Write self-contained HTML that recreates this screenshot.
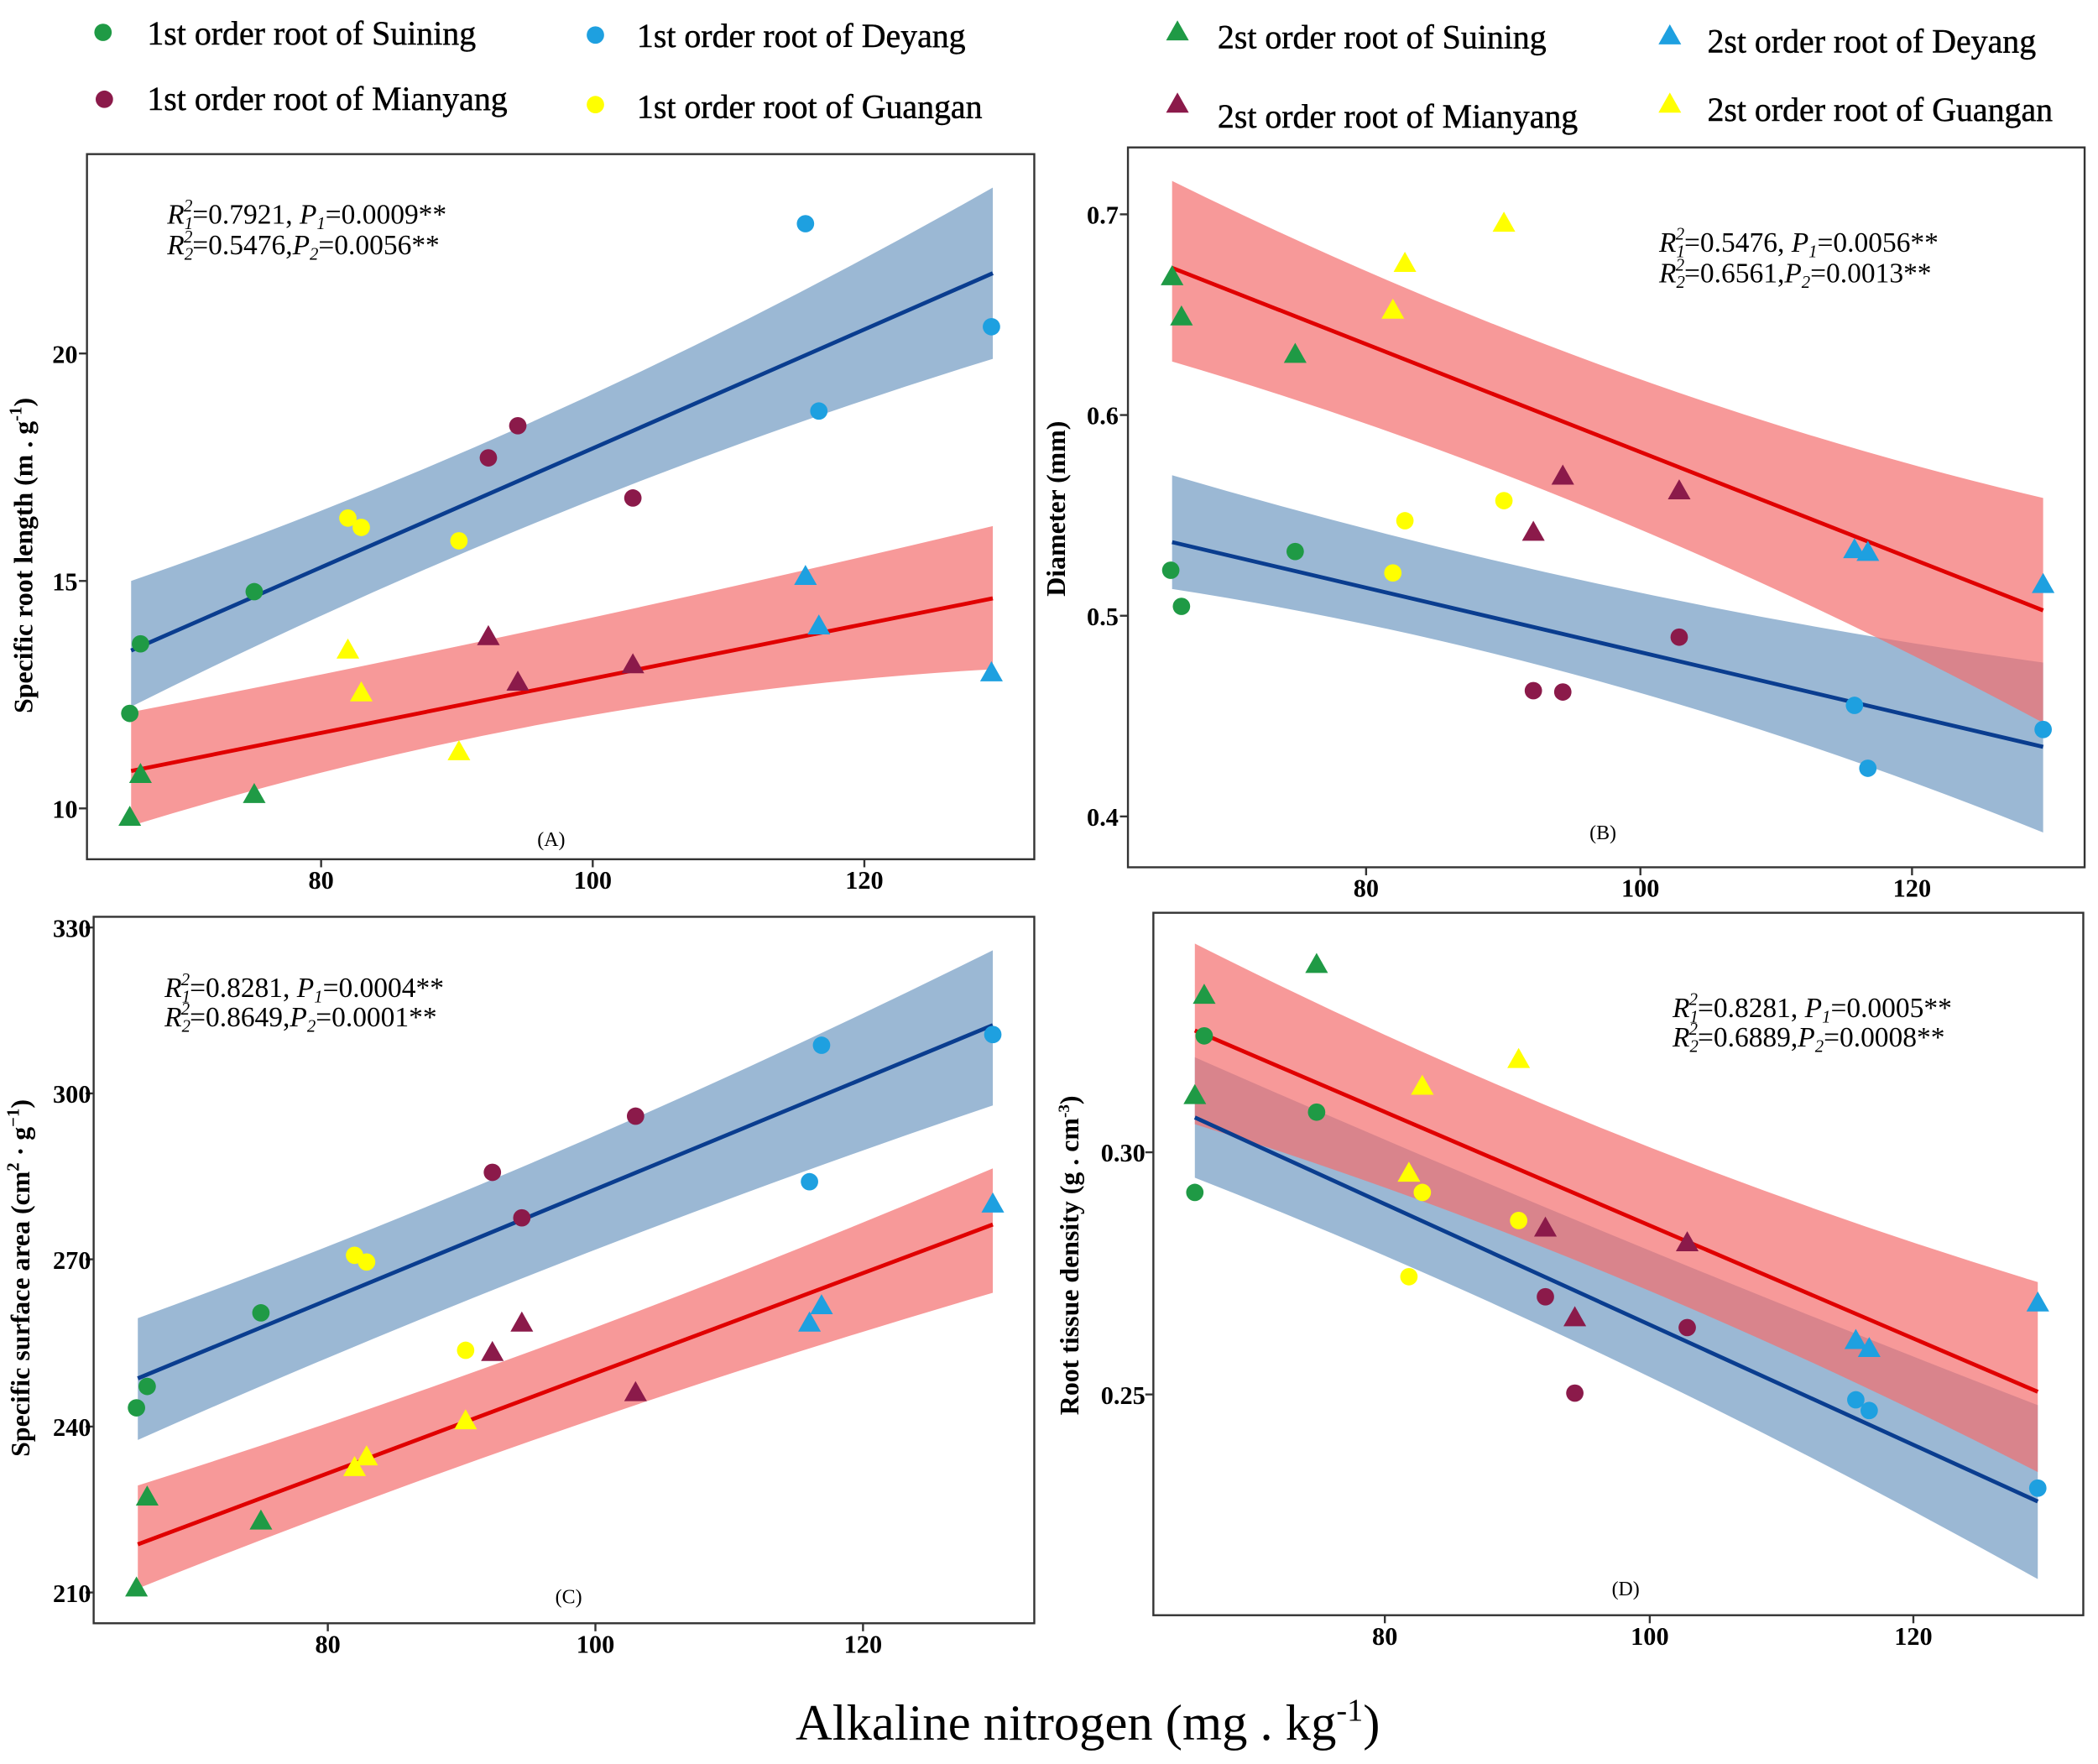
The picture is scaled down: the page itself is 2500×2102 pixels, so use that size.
<!DOCTYPE html>
<html><head><meta charset="utf-8"><style>
html,body{margin:0;padding:0;background:#fff}
svg{display:block}
text{font-family:"Liberation Serif",serif}
.tk{font-size:19px;font-weight:bold}
.yl{font-size:20px;font-weight:bold}
.lg{font-size:25px;stroke:#000;stroke-width:0.3}
.eq{font-size:21px;font-style:italic}
.pl{font-size:15px}
</style></head><body>
<svg width="2500" height="2102" viewBox="0 0 1568 1318" xmlns="http://www.w3.org/2000/svg">
<defs>
<circle id="c" r="6.5"/>
<path id="t" d="M0,-9 L8.5,6 L-8.5,6 Z"/>
</defs>
<rect width="1568" height="1318" fill="#fff"/>
<!-- legend -->
<g class="lg">
<use href="#c" x="77" y="24" fill="#1f9a45" stroke="none"/><text x="110" y="33">1st order root of Suining</text>
<use href="#c" x="445" y="26" fill="#1ea0e0" stroke="none"/><text x="476" y="35">1st order root of Deyang</text>
<use href="#c" x="78" y="74" fill="#8b1a4a" stroke="none"/><text x="110" y="82">1st order root of Mianyang</text>
<use href="#c" x="445" y="78" fill="#ffff00" stroke="none"/><text x="476" y="88">1st order root of Guangan</text>
<use href="#t" x="880" y="24" fill="#1f9a45" stroke="none"/><text x="910" y="36">2st order root of Suining</text>
<use href="#t" x="1248" y="27" fill="#1ea0e0" stroke="none"/><text x="1276" y="39">2st order root of Deyang</text>
<use href="#t" x="880" y="78" fill="#8b1a4a" stroke="none"/><text x="910" y="95">2st order root of Mianyang</text>
<use href="#t" x="1248" y="78" fill="#ffff00" stroke="none"/><text x="1276" y="90">2st order root of Guangan</text>
</g>

<!-- Panel A -->
<g>
<path d="M98,434 Q420,323 742,140 L742,268 Q420,367 98,528 Z" fill="#7aa0c6" fill-opacity="0.75"/>
<path d="M98,532 Q420,470 742,393 L742,500 Q420,518 98,617 Z" fill="#f46d6d" fill-opacity="0.7"/>
<line x1="98" y1="486" x2="742" y2="204" stroke="#0a3d8f" stroke-width="3"/>
<line x1="98" y1="576" x2="742" y2="447" stroke="#e00000" stroke-width="3"/>
<rect x="65" y="115" width="708" height="527" fill="none" stroke="#333" stroke-width="1.5"/>
<g stroke="#333" stroke-width="1.5"><line x1="240" y1="642" x2="240" y2="648"/><line x1="443" y1="642" x2="443" y2="648"/><line x1="646" y1="642" x2="646" y2="648"/><line x1="59" y1="604" x2="65" y2="604"/><line x1="59" y1="434" x2="65" y2="434"/><line x1="59" y1="264" x2="65" y2="264"/></g>
<g class="tk" text-anchor="middle"><text x="240" y="664">80</text><text x="443" y="664">100</text><text x="646" y="664">120</text></g>
<g class="tk" text-anchor="end"><text x="58" y="611">10</text><text x="58" y="441">15</text><text x="58" y="271">20</text></g>
<text class="yl" transform="translate(24,415) rotate(-90)" text-anchor="middle">Specific root length (m . g<tspan dy="-8" font-size="13">-1</tspan><tspan dy="8">)</tspan></text>
<text class="eq" x="125" y="167">R<tspan font-size="13" dy="4">1</tspan><tspan font-size="13" dx="-7" dy="-13">2</tspan><tspan dy="9" font-style="normal">=0.7921, </tspan>P<tspan font-size="13" dy="4">1</tspan><tspan dy="-4" font-style="normal">=0.0009**</tspan></text>
<text class="eq" x="125" y="190">R<tspan font-size="13" dy="4">2</tspan><tspan font-size="13" dx="-7" dy="-13">2</tspan><tspan dy="9" font-style="normal">=0.5476,</tspan>P<tspan font-size="13" dy="4">2</tspan><tspan dy="-4" font-style="normal">=0.0056**</tspan></text>
<text class="pl" x="412" y="632" text-anchor="middle">(A)</text>
<g fill="#1f9a45"><use href="#c" x="97" y="533"/><use href="#c" x="105" y="481"/><use href="#c" x="190" y="442"/><use href="#t" x="97" y="611"/><use href="#t" x="105" y="579"/><use href="#t" x="190" y="594"/></g>
<g fill="#8b1a4a"><use href="#c" x="365" y="342"/><use href="#c" x="387" y="318"/><use href="#c" x="473" y="372"/><use href="#t" x="365" y="476"/><use href="#t" x="387" y="510"/><use href="#t" x="473" y="497"/></g>
<g fill="#ffff00"><use href="#c" x="260" y="387"/><use href="#c" x="270" y="394"/><use href="#c" x="343" y="404"/><use href="#t" x="260" y="486"/><use href="#t" x="270" y="518"/><use href="#t" x="343" y="562"/></g>
<g fill="#1ea0e0"><use href="#c" x="602" y="167"/><use href="#c" x="612" y="307"/><use href="#c" x="741" y="244"/><use href="#t" x="602" y="431"/><use href="#t" x="612" y="468"/><use href="#t" x="741" y="503"/></g>
</g>

<!-- Panel B -->
<g>
<path d="M876,355 Q1200,450 1527,495 L1527,622 Q1200,490 876,440 Z" fill="#7aa0c6" fill-opacity="0.75"/>
<path d="M876,135 Q1200,295 1527,372 L1527,540 Q1200,365 876,270 Z" fill="#f46d6d" fill-opacity="0.7"/>
<line x1="876" y1="405" x2="1527" y2="558" stroke="#0a3d8f" stroke-width="3"/>
<line x1="876" y1="200" x2="1527" y2="456" stroke="#e00000" stroke-width="3"/>
<rect x="843" y="110" width="715" height="538" fill="none" stroke="#333" stroke-width="1.5"/>
<g stroke="#333" stroke-width="1.5"><line x1="1021" y1="648" x2="1021" y2="654"/><line x1="1226" y1="648" x2="1226" y2="654"/><line x1="1429" y1="648" x2="1429" y2="654"/><line x1="837" y1="610" x2="843" y2="610"/><line x1="837" y1="460" x2="843" y2="460"/><line x1="837" y1="310" x2="843" y2="310"/><line x1="837" y1="160" x2="843" y2="160"/></g>
<g class="tk" text-anchor="middle"><text x="1021" y="670">80</text><text x="1226" y="670">100</text><text x="1429" y="670">120</text></g>
<g class="tk" text-anchor="end"><text x="836" y="617">0.4</text><text x="836" y="467">0.5</text><text x="836" y="317">0.6</text><text x="836" y="167">0.7</text></g>
<text class="yl" transform="translate(796,380) rotate(-90)" text-anchor="middle">Diameter (mm)</text>
<text class="eq" x="1240" y="188">R<tspan font-size="13" dy="4">1</tspan><tspan font-size="13" dx="-7" dy="-13">2</tspan><tspan dy="9" font-style="normal">=0.5476, </tspan>P<tspan font-size="13" dy="4">1</tspan><tspan dy="-4" font-style="normal">=0.0056**</tspan></text>
<text class="eq" x="1240" y="211">R<tspan font-size="13" dy="4">2</tspan><tspan font-size="13" dx="-7" dy="-13">2</tspan><tspan dy="9" font-style="normal">=0.6561,</tspan>P<tspan font-size="13" dy="4">2</tspan><tspan dy="-4" font-style="normal">=0.0013**</tspan></text>
<text class="pl" x="1198" y="627" text-anchor="middle" font-size="19">(B)</text>
<g fill="#1f9a45"><use href="#c" x="875" y="426"/><use href="#c" x="883" y="453"/><use href="#c" x="968" y="412"/><use href="#t" x="876" y="207"/><use href="#t" x="883" y="237"/><use href="#t" x="968" y="265"/></g>
<g fill="#8b1a4a"><use href="#c" x="1146" y="516"/><use href="#c" x="1168" y="517"/><use href="#c" x="1255" y="476"/><use href="#t" x="1146" y="398"/><use href="#t" x="1168" y="356"/><use href="#t" x="1255" y="367"/></g>
<g fill="#ffff00"><use href="#c" x="1041" y="428"/><use href="#c" x="1050" y="389"/><use href="#c" x="1124" y="374"/><use href="#t" x="1041" y="232"/><use href="#t" x="1050" y="197"/><use href="#t" x="1124" y="167"/></g>
<g fill="#1ea0e0"><use href="#c" x="1386" y="527"/><use href="#c" x="1396" y="574"/><use href="#c" x="1527" y="545"/><use href="#t" x="1386" y="411"/><use href="#t" x="1396" y="413"/><use href="#t" x="1527" y="437"/></g>
</g>

<!-- Panel C -->
<g>
<path d="M103,985 Q420,870 742,710 L742,826 Q420,935 103,1076 Z" fill="#7aa0c6" fill-opacity="0.75"/>
<path d="M103,1110 Q420,1010 742,873 L742,966 Q420,1060 103,1187 Z" fill="#f46d6d" fill-opacity="0.7"/>
<line x1="103" y1="1030" x2="742" y2="766" stroke="#0a3d8f" stroke-width="3"/>
<line x1="103" y1="1154" x2="742" y2="915" stroke="#e00000" stroke-width="3"/>
<rect x="70" y="685" width="703" height="528" fill="none" stroke="#333" stroke-width="1.5"/>
<g stroke="#333" stroke-width="1.5"><line x1="245" y1="1213" x2="245" y2="1219"/><line x1="445" y1="1213" x2="445" y2="1219"/><line x1="645" y1="1213" x2="645" y2="1219"/><line x1="64" y1="1190" x2="70" y2="1190"/><line x1="64" y1="1066" x2="70" y2="1066"/><line x1="64" y1="941" x2="70" y2="941"/><line x1="64" y1="817" x2="70" y2="817"/><line x1="64" y1="693" x2="70" y2="693"/></g>
<g class="tk" text-anchor="middle"><text x="245" y="1235">80</text><text x="445" y="1235">100</text><text x="645" y="1235">120</text></g>
<g class="tk" text-anchor="end"><text x="68" y="1197">210</text><text x="68" y="1073">240</text><text x="68" y="948">270</text><text x="68" y="824">300</text><text x="68" y="700">330</text></g>
<text class="yl" transform="translate(22,955) rotate(-90)" text-anchor="middle">Specific surface area (cm<tspan dy="-8" font-size="13">2</tspan><tspan dy="8"> · g</tspan><tspan dy="-8" font-size="13">−1</tspan><tspan dy="8">)</tspan></text>
<text class="eq" x="123" y="745">R<tspan font-size="13" dy="4">1</tspan><tspan font-size="13" dx="-7" dy="-13">2</tspan><tspan dy="9" font-style="normal">=0.8281, </tspan>P<tspan font-size="13" dy="4">1</tspan><tspan dy="-4" font-style="normal">=0.0004**</tspan></text>
<text class="eq" x="123" y="767">R<tspan font-size="13" dy="4">2</tspan><tspan font-size="13" dx="-7" dy="-13">2</tspan><tspan dy="9" font-style="normal">=0.8649,</tspan>P<tspan font-size="13" dy="4">2</tspan><tspan dy="-4" font-style="normal">=0.0001**</tspan></text>
<text class="pl" x="425" y="1198" text-anchor="middle" font-size="19">(C)</text>
<g fill="#1f9a45"><use href="#c" x="102" y="1052"/><use href="#c" x="110" y="1036"/><use href="#c" x="195" y="981"/><use href="#t" x="102" y="1187"/><use href="#t" x="110" y="1119"/><use href="#t" x="195" y="1137"/></g>
<g fill="#8b1a4a"><use href="#c" x="368" y="876"/><use href="#c" x="390" y="910"/><use href="#c" x="475" y="834"/><use href="#t" x="368" y="1011"/><use href="#t" x="390" y="989"/><use href="#t" x="475" y="1041"/></g>
<g fill="#ffff00"><use href="#c" x="265" y="938"/><use href="#c" x="274" y="943"/><use href="#c" x="348" y="1009"/><use href="#t" x="265" y="1097"/><use href="#t" x="274" y="1089"/><use href="#t" x="348" y="1062"/></g>
<g fill="#1ea0e0"><use href="#c" x="605" y="883"/><use href="#c" x="614" y="781"/><use href="#c" x="742" y="773"/><use href="#t" x="605" y="989"/><use href="#t" x="614" y="976"/><use href="#t" x="742" y="900"/></g>
</g>

<!-- Panel D -->
<g>
<path d="M893,790 Q1200,925 1523,1050 L1523,1180 Q1200,1000 893,880 Z" fill="#7aa0c6" fill-opacity="0.75"/>
<path d="M893,705 Q1200,860 1523,958 L1523,1100 Q1200,935 893,840 Z" fill="#f46d6d" fill-opacity="0.7"/>
<line x1="893" y1="835" x2="1523" y2="1122" stroke="#0a3d8f" stroke-width="3"/>
<line x1="893" y1="770" x2="1523" y2="1040" stroke="#e00000" stroke-width="3"/>
<rect x="862" y="682" width="695" height="525" fill="none" stroke="#333" stroke-width="1.5"/>
<g stroke="#333" stroke-width="1.5"><line x1="1035" y1="1207" x2="1035" y2="1213"/><line x1="1233" y1="1207" x2="1233" y2="1213"/><line x1="1430" y1="1207" x2="1430" y2="1213"/><line x1="856" y1="1042" x2="862" y2="1042"/><line x1="856" y1="861" x2="862" y2="861"/></g>
<g class="tk" text-anchor="middle"><text x="1035" y="1229">80</text><text x="1233" y="1229">100</text><text x="1430" y="1229">120</text></g>
<g class="tk" text-anchor="end"><text x="856" y="1049">0.25</text><text x="856" y="868">0.30</text></g>
<text class="yl" font-size="17" transform="translate(806,938) rotate(-90)" text-anchor="middle">Root tissue density (g . cm<tspan dy="-7" font-size="12">-3</tspan><tspan dy="7">)</tspan></text>
<text class="eq" x="1250" y="760">R<tspan font-size="13" dy="4">1</tspan><tspan font-size="13" dx="-7" dy="-13">2</tspan><tspan dy="9" font-style="normal">=0.8281, </tspan>P<tspan font-size="13" dy="4">1</tspan><tspan dy="-4" font-style="normal">=0.0005**</tspan></text>
<text class="eq" x="1250" y="782">R<tspan font-size="13" dy="4">2</tspan><tspan font-size="13" dx="-7" dy="-13">2</tspan><tspan dy="9" font-style="normal">=0.6889,</tspan>P<tspan font-size="13" dy="4">2</tspan><tspan dy="-4" font-style="normal">=0.0008**</tspan></text>
<text class="pl" x="1215" y="1192" text-anchor="middle" font-size="19">(D)</text>
<g fill="#1f9a45"><use href="#c" x="893" y="891"/><use href="#c" x="900" y="774"/><use href="#c" x="984" y="831"/><use href="#t" x="893" y="819"/><use href="#t" x="900" y="744"/><use href="#t" x="984" y="721"/></g>
<g fill="#8b1a4a"><use href="#c" x="1155" y="969"/><use href="#c" x="1177" y="1041"/><use href="#c" x="1261" y="992"/><use href="#t" x="1155" y="918"/><use href="#t" x="1177" y="985"/><use href="#t" x="1261" y="929"/></g>
<g fill="#ffff00"><use href="#c" x="1053" y="954"/><use href="#c" x="1063" y="891"/><use href="#c" x="1135" y="912"/><use href="#t" x="1053" y="877"/><use href="#t" x="1063" y="812"/><use href="#t" x="1135" y="792"/></g>
<g fill="#1ea0e0"><use href="#c" x="1387" y="1046"/><use href="#c" x="1397" y="1054"/><use href="#c" x="1523" y="1112"/><use href="#t" x="1387" y="1002"/><use href="#t" x="1397" y="1008"/><use href="#t" x="1523" y="974"/></g>
</g>

<text x="813" y="1300" text-anchor="middle" font-size="38">Alkaline nitrogen (mg . kg<tspan dy="-14" font-size="24">-1</tspan><tspan dy="14">)</tspan></text>
</svg>
</body></html>
